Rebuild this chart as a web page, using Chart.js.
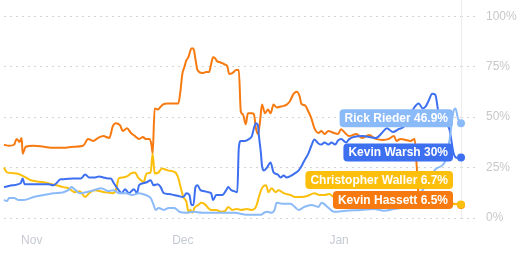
<!DOCTYPE html>
<html><head><meta charset="utf-8">
<script src="https://cdn.jsdelivr.net/npm/chart.js@4.4.1/dist/chart.umd.min.js"></script>
<style>html,body{margin:0;padding:0;background:#fff;overflow:hidden}#wrap{width:524px;height:256px;position:relative}</style>
</head><body><div id="wrap"><canvas id="c" width="524" height="256"></canvas></div>
<script>
// x values are days counted from Nov 1
const monthLabels = ['Nov', 'Dec', 'Jan'];
const monthTickDays = [0, 30, 61];
const yTickValues = [0, 25, 50, 75, 100];

const seriesNames = ['Rick Rieder', 'Kevin Warsh', 'Christopher Waller', 'Kevin Hassett'];
const seriesColors = ['#8bbaf8', '#3d6ff1', '#fcbf0b', '#f67a10'];

const riederDays = [-5.5,-4.9,-4.5,-3.5,-2.6,-1.6,0.4,2.4,4.3,6.3,7.5,7.9,8.7,9.5,10.8,12.4,13.8,15.2,16.3,17.3,18.7,19.9,21.3,22.6,23.6,24.2,24.6,25.2,26.2,27.2,28.3,29.3,30.7,32.1,33.9,35.2,37.2,38.8,40.2,42.7,45.5,46.1,46.7,47.6,48.2,48.6,50.0,51.4,52.2,53.0,54.1,55.5,56.9,57.5,58.9,60.0,62.4,65.4,67.9,69.9,71.9,74.2,76.2,78.2,80.3,81.9,82.9,83.7,84.1,84.6,85.2];
const riederValues = [8.9,8.4,9.9,9.9,8.9,8.9,10.4,11.4,12.3,12.8,14.3,15.3,13.8,12.3,12.8,13.8,14.8,13.3,13.8,12.3,12.3,11.4,12.3,11.4,9.9,6.5,4.0,5.0,4.0,5.0,5.0,3.1,2.6,3.1,2.6,2.6,2.6,2.6,2.6,1.6,1.6,2.6,3.1,2.6,4.0,7.5,7.0,7.0,5.5,4.0,5.5,6.5,5.5,7.5,5.0,3.1,3.6,4.0,4.5,3.6,4.5,5.5,8.9,16.2,24.5,27.3,38.2,52.8,54.3,49.3,46.9];

const warshDays = [-5.5,-3.9,-2.2,-1.8,-1.4,1.0,3.3,4.3,4.9,5.7,6.3,8.3,9.8,10.6,11.4,12.6,13.4,14.2,15.2,15.7,16.3,17.1,17.9,18.5,19.3,20.3,20.9,21.3,22.1,22.8,23.6,24.2,25.0,25.6,26.2,27.2,28.2,29.1,30.1,30.7,31.3,31.7,32.1,32.5,32.9,33.5,34.3,35.0,35.6,36.0,36.6,37.8,38.6,39.0,39.6,40.2,40.8,41.1,41.5,42.3,43.1,43.7,44.1,44.5,44.9,45.1,45.5,45.7,46.1,46.7,47.4,48.0,48.8,49.4,50.0,50.6,51.2,51.6,52.2,53.0,53.5,54.1,54.9,55.5,56.1,56.9,57.5,58.1,58.9,59.5,60.2,60.8,61.4,62.4,63.0,65.6,68.3,69.5,70.5,71.7,72.8,74.0,74.8,75.8,76.8,77.6,78.2,78.7,79.5,80.1,80.7,81.7,82.9,83.7,84.3,85.2];
const warshValues = [15.3,16.2,17.2,19.6,16.7,16.7,16.7,16.2,17.2,19.2,19.2,19.6,19.6,21.6,20.1,20.1,20.6,20.1,19.6,19.6,17.2,14.3,12.3,14.3,12.3,14.3,12.3,16.2,17.2,17.7,18.7,16.2,16.7,15.3,12.3,11.9,11.4,10.9,10.4,12.3,11.4,6.5,6.5,15.3,16.2,13.8,13.3,12.8,12.3,8.9,11.4,11.4,13.8,15.3,13.8,13.3,12.8,34.8,38.2,38.2,39.1,40.6,44.5,47.0,46.0,40.6,31.9,25.9,23.6,25.0,27.5,22.6,21.6,20.1,21.1,20.1,20.6,21.1,22.1,23.6,25.5,28.4,31.9,35.8,38.9,36.9,36.4,37.4,36.4,37.4,36.4,38.4,39.1,37.4,39.1,40.6,39.6,42.1,44.5,42.6,44.0,45.5,48.9,54.3,56.8,54.3,55.3,57.7,61.6,61.1,52.8,48.0,44.0,32.4,29.9,30];

const wallerDays = [-5.5,-4.9,-3.0,-1.2,-0.2,2.4,4.9,6.3,7.3,8.5,9.5,10.6,11.4,12.4,14.4,16.1,16.7,17.3,18.1,18.9,19.7,20.5,21.1,21.7,22.2,22.8,23.6,24.0,24.4,25.2,25.8,27.0,28.5,29.1,29.7,30.1,30.7,31.1,31.5,31.9,32.3,33.1,33.7,34.5,35.0,35.6,36.6,37.6,38.4,39.0,39.8,40.7,41.5,42.7,43.7,44.5,45.1,45.7,46.5,47.0,47.6,48.4,49.0,50.0,51.4,52.2,53.5,54.7,56.1,57.1,58.1,59.1,60.0,61.4,63.4,66.3,69.3,72.3,75.2,76.8,79.1,82.1,85.2];
const wallerValues = [25.0,22.6,22.1,20.1,18.7,17.7,16.2,15.3,14.8,12.8,13.3,10.4,12.3,13.8,12.8,12.3,13.8,19.7,20.1,20.6,22.1,22.6,20.1,18.7,17.7,22.1,22.6,31.9,22.1,22.6,24.5,23.6,22.6,19.7,13.8,10.4,8.0,3.1,4.0,2.6,5.0,6.5,7.5,6.5,5.0,4.0,4.0,3.1,3.6,5.5,4.0,4.5,4.0,4.5,4.0,5.5,10.4,14.8,16.2,12.8,14.8,12.8,13.8,12.3,11.4,10.4,10.4,10.9,12.3,11.4,11.4,11.9,10.4,10.9,10.9,11.5,10.5,11.0,10.5,8.0,7.5,7.0,6.7];

const hassettDays = [-5.5,-4.5,-3.5,-3.0,-2.4,-2.0,-1.8,-1.2,0.4,2.4,4.3,6.3,8.3,10.2,11.2,12.2,13.2,14.2,15.4,16.1,16.7,17.5,18.1,18.9,19.7,20.5,21.3,22.1,22.6,23.4,23.8,24.0,24.4,25.0,26.0,27.0,28.0,29.1,29.5,29.9,30.3,30.7,31.1,31.7,32.1,32.5,32.9,33.9,34.6,35.2,35.6,36.0,36.4,36.8,37.4,38.2,38.8,39.2,39.8,40.6,41.1,41.5,41.9,42.5,42.9,43.7,44.1,44.5,44.9,45.3,45.7,46.3,46.9,47.4,48.0,48.6,49.6,50.6,51.2,52.0,52.6,53.2,53.5,54.3,54.9,55.5,56.1,56.9,57.5,58.1,58.9,59.5,60.0,60.8,61.4,62.2,63.0,64.4,65.6,66.9,68.3,69.7,70.9,71.9,72.4,73.2,74.2,75.2,76.0,76.4,76.8,78.2,80.1,82.1,84.1,85.2];
const hassettValues = [36.3,35.8,36.3,39.2,37.7,39.7,31.9,35.3,35.8,35.3,34.8,34.8,35.3,35.8,39.2,38.2,39.7,40.6,39.7,45.5,47.0,46.0,43.1,44.5,42.1,40.6,39.2,40.1,39.2,39.2,35.8,31.9,54.3,53.8,56.2,56.7,56.7,56.7,62.6,71.4,74.8,78.2,79.7,84.0,84.0,78.7,73.3,71.8,72.3,72.3,76.2,79.7,79.2,77.7,77.2,76.2,75.3,71.4,71.8,73.3,73.3,52.8,51.4,46.5,51.9,51.9,51.4,44.5,41.6,47.5,56.2,51.9,53.8,51.9,56.2,54.8,55.3,56.2,57.7,61.6,62.6,60.1,56.7,55.7,52.8,49.4,44.5,42.1,43.1,41.6,43.1,42.6,42.1,41.6,44.0,42.1,40.6,41.6,39.7,41.1,39.2,38.7,39.2,40.6,38.2,39.2,38.7,38.2,39.2,26.0,11.4,8.9,7.9,7.5,7.0,6.5];

const seriesDays = [riederDays, warshDays, wallerDays, hassettDays];
const seriesValues = [riederValues, warshValues, wallerValues, hassettValues];

// light vertical rule at the right edge of the plot, running to the top of the canvas
const edgeRule = {
  id: 'edgeRule',
  beforeDatasetsDraw(chart) {
    const { ctx, chartArea } = chart;
    const x = Math.round(chartArea.right) + 0.5;
    ctx.save();
    ctx.strokeStyle = '#ececec';
    ctx.lineWidth = 1;
    ctx.beginPath();
    ctx.moveTo(x, 0);
    ctx.lineTo(x, chartArea.bottom);
    ctx.stroke();
    ctx.restore();
  }
};

const endLabels = {
  id: 'endLabels',
  afterDatasetsDraw(chart) {
    const ctx = chart.ctx;
    const items = chart.data.datasets.map((ds, i) => {
      const meta = chart.getDatasetMeta(i);
      const pt = meta.data[meta.data.length - 1];
      const v = ds.data[ds.data.length - 1].y;
      return { text: ds.label + ' ' + v + '%', x: pt.x, y: pt.y - 5, color: ds.borderColor };
    });
    items.sort((a, b) => b.y - a.y);
    const H = 18, gap = 2;
    for (let k = 1; k < items.length; k++) {
      if (items[k].y > items[k - 1].y - (H + gap)) items[k].y = items[k - 1].y - (H + gap);
    }
    ctx.save();
    ctx.font = 'bold 12px "Liberation Sans", Arial, sans-serif';
    items.forEach(it => {
      const w = ctx.measureText(it.text).width + 10;
      const right = it.x - 8;
      ctx.fillStyle = it.color;
      ctx.beginPath();
      ctx.roundRect(right - w, it.y - H / 2, w, H, 4);
      ctx.fill();
      ctx.fillStyle = '#ffffff';
      ctx.textAlign = 'right';
      ctx.textBaseline = 'middle';
      ctx.fillText(it.text, right - 5, it.y + 0.5);
    });
    ctx.restore();
  }
};

new Chart(document.getElementById('c'), {
  type: 'line',
  data: {
    datasets: seriesNames.map((name, i) => ({
      label: name,
      data: seriesDays[i].map((d, j) => ({ x: d, y: seriesValues[i][j] })),
      borderColor: seriesColors[i],
      backgroundColor: seriesColors[i],
      borderWidth: 2,
      pointRadius: c => c.dataIndex === seriesDays[i].length - 1 ? 4 : 0,
      pointBorderWidth: 0,
      pointHoverRadius: 0,
      cubicInterpolationMode: 'monotone',
      fill: false,
      clip: 8
    }))
  },
  options: {
    responsive: false,
    devicePixelRatio: 1,
    animation: false,
    events: [],
    layout: { padding: { top: 13, left: 0, right: 0, bottom: 0 } },
    plugins: { legend: { display: false }, tooltip: { enabled: false } },
    scales: {
      x: {
        type: 'linear',
        min: -5.5,
        max: 85.2,
        afterBuildTicks: s => { s.ticks = monthTickDays.map(v => ({ value: v })); },
        afterFit: s => { s.height = 38; },
        grid: { display: false, drawTicks: false },
        border: { display: false },
        ticks: {
          autoSkip: false, maxRotation: 0, padding: 15,
          color: '#c6cad2',
          font: { size: 12, family: '"Liberation Sans", Arial, sans-serif' },
          callback: v => monthLabels[monthTickDays.indexOf(v)]
        }
      },
      y: {
        position: 'right',
        min: 0,
        max: 100,
        afterBuildTicks: s => { s.ticks = yTickValues.map(v => ({ value: v })); },
        afterFit: s => { s.width = 63; },
        grid: { color: '#d4d4d4', lineWidth: 1, drawTicks: true, tickLength: 16, tickColor: '#d4d4d4', tickBorderDash: [2, 4] },
        border: { display: false, dash: [2, 4] },
        ticks: {
          padding: 9,
          color: '#c8c8c8',
          font: { size: 12, family: '"Liberation Sans", Arial, sans-serif' },
          callback: v => v + '%'
        }
      }
    }
  },
  plugins: [edgeRule, endLabels]
});
</script>
</body></html>
